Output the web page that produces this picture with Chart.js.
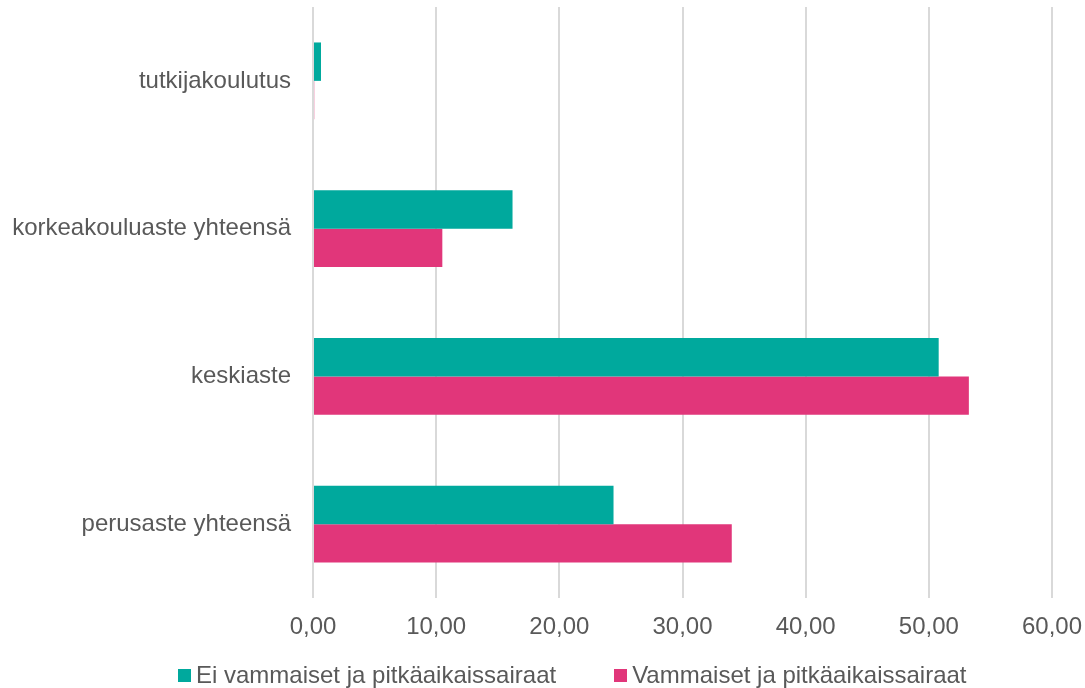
<!DOCTYPE html>
<html>
<head>
<meta charset="utf-8">
<script src="https://cdn.jsdelivr.net/npm/chart.js@4"></script>
<style>
  html, body { margin: 0; padding: 0; background: #fff; }
  #wrap { position: relative; width: 1085px; height: 688px; }
  #legend {
    position: absolute; left: 178px; top: 661px;
    display: flex; gap: 58px;
    font-family: "Liberation Sans", Arial, sans-serif; font-size: 24px; color: #595959;
  }
  #legend .item { display: flex; align-items: center; }
  #legend .box { width: 13px; height: 13px; margin-right: 5px; }
</style>
</head>
<body>
<div id="wrap">
  <canvas id="chart" width="1085" height="688"></canvas>
  <div id="legend"></div>
</div>
<script>
const categories = ["tutkijakoulutus", "korkeakouluaste yhteensä", "keskiaste", "perusaste yhteensä"];
const eiVammaiset = [0.65, 16.2, 50.8, 24.4];
const vammaiset = [0.1, 10.5, 53.25, 34.0];
const seriesNames = ["Ei vammaiset ja pitkäaikaissairaat", "Vammaiset ja pitkäaikaissairaat"];
const seriesColors = ["#00A99D", "#E1367A"];

const font = { family: "'Liberation Sans', Arial, sans-serif", size: 24 };

const canvas = document.getElementById("chart");
const chart = new Chart(canvas, {
    type: "bar",
    data: {
        labels: categories,
        datasets: [
            { label: seriesNames[0], data: eiVammaiset, backgroundColor: seriesColors[0] },
            { label: seriesNames[1], data: vammaiset, backgroundColor: seriesColors[1] }
        ]
    },
    options: {
        indexAxis: "y",
        responsive: false,
        animation: false,
        devicePixelRatio: 1,
        categoryPercentage: 0.52,
        barPercentage: 1,
        layout: { padding: { top: 7, right: 33, bottom: 46, left: 0 } },
        plugins: {
            legend: { display: false },
            tooltip: { enabled: false }
        },
        scales: {
            x: {
                min: 0,
                max: 60,
                ticks: {
                    stepSize: 10,
                    padding: 15,
                    color: "#595959",
                    font: font,
                    maxRotation: 0,
                    callback: v => v.toFixed(2).replace(".", ",")
                },
                grid: { color: "#d9d9d9", lineWidth: 2, drawTicks: false },
                border: { display: false },
                afterFit: scale => {
                    scale.height = 44;
                    scale.paddingLeft = 0;
                    scale.paddingRight = 0;
                }
            },
            y: {
                ticks: { padding: 22, color: "#595959", font: font },
                grid: { display: false, drawTicks: false },
                border: { display: false },
                afterFit: scale => {
                    scale.width = 313;
                    scale.paddingTop = 0;
                    scale.paddingBottom = 0;
                }
            }
        }
    }
});

const legend = document.getElementById("legend");
chart.data.datasets.forEach(ds => {
    const item = document.createElement("div");
    item.className = "item";
    const box = document.createElement("span");
    box.className = "box";
    box.style.background = ds.backgroundColor;
    const text = document.createElement("span");
    text.textContent = ds.label;
    item.appendChild(box);
    item.appendChild(text);
    legend.appendChild(item);
});
</script>
</body>
</html>
